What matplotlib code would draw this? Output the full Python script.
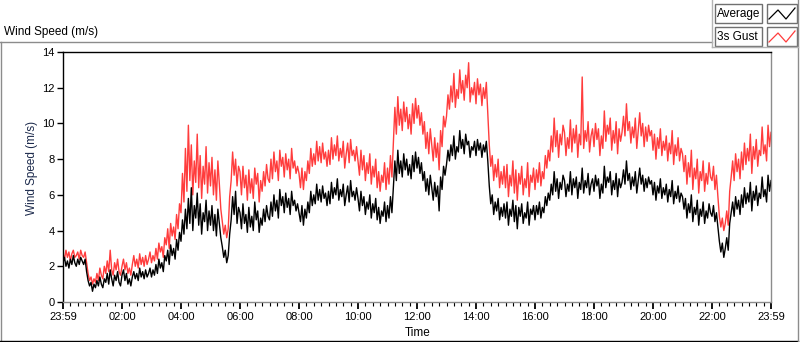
import numpy as np
import matplotlib
matplotlib.use('Agg')
import matplotlib.pyplot as plt
from matplotlib.patches import Rectangle
from matplotlib.lines import Line2D
from matplotlib.ticker import MultipleLocator

# wind speed (m/s), one sample every 3 minutes
sample_minutes = 3
average = [
    2.2, 2.5, 2.0, 2.3, 1.9, 2.4, 2.1, 2.6, 2.2, 2.0, 2.4, 2.1, 2.5, 2.3, 2.1, 2.4, 1.7, 1.2, 0.9, 1.1,
    0.6, 1.0, 0.8, 1.2, 0.9, 1.4, 1.0, 0.8, 1.3, 1.1, 1.6, 1.0, 1.8, 1.3, 0.9, 1.5, 1.2, 1.7, 1.1, 0.9,
    1.5, 1.8, 1.2, 1.6, 1.0, 1.3, 0.9, 1.4, 1.7, 1.3, 1.6, 1.2, 1.9, 1.4, 1.7, 1.3, 1.8, 1.4, 1.6, 1.9,
    1.4, 1.8, 1.5, 2.1, 1.6, 2.4, 1.9, 2.2, 1.7, 2.6, 2.3, 2.9, 2.1, 3.2, 2.6, 3.0, 2.4, 3.5, 2.9, 3.9,
    3.4, 4.6, 3.8, 5.2, 4.1, 5.8, 4.4, 6.4, 4.0, 5.4, 4.7, 6.1, 4.3, 5.5, 3.8, 5.0, 4.5, 5.7, 4.0, 5.1,
    4.3, 5.4, 4.0, 4.9, 3.7, 5.2, 4.4, 3.6, 3.1, 2.5, 2.9, 2.2, 2.6, 3.8, 4.6, 5.9, 4.9, 6.2, 4.4, 5.3,
    5.0, 4.1, 5.5, 4.4, 4.9, 3.9, 5.3, 4.2, 4.8, 4.0, 5.6, 4.6, 5.1, 3.9, 4.7, 4.3, 5.2, 4.5, 5.4, 4.8,
    4.6, 5.6, 4.8, 6.0, 5.1, 5.7, 4.7, 6.3, 5.4, 5.9, 5.0, 6.1, 5.3, 5.8, 4.9, 6.2, 5.4, 5.7, 5.1, 5.5,
    5.0, 4.5, 5.4, 4.3, 5.2, 4.7, 5.6, 5.0, 6.2, 5.4, 6.0, 5.5, 6.6, 5.7, 6.3, 5.6, 6.5, 5.8, 6.1, 5.4,
    6.2, 5.5, 6.7, 5.8, 6.4, 6.0, 6.9, 5.7, 6.3, 5.9, 6.6, 5.4, 6.0, 6.5, 5.6, 6.8, 5.9, 6.2, 5.7, 6.4,
    5.8, 5.1, 6.2, 5.4, 5.9, 4.9, 5.6, 5.2, 6.0, 4.7, 5.5, 5.0, 5.8, 4.6, 5.3, 4.4, 5.1, 4.8, 5.6, 4.5,
    5.4, 4.7, 5.9, 5.0, 6.4, 7.9, 6.8, 8.5, 7.2, 7.9, 7.0, 8.3, 7.4, 8.0, 7.1, 7.7, 6.9, 8.2, 7.3, 8.4,
    7.5, 8.1, 7.2, 7.8, 6.8, 7.3, 6.2, 6.9, 6.0, 7.1, 6.4, 5.7, 6.7, 5.9, 6.5, 5.1, 7.0, 6.3, 7.6, 7.1,
    7.7, 8.5, 7.9, 8.8, 8.2, 9.3, 8.0, 8.7, 8.4, 9.6, 8.6, 9.1, 8.3, 9.4, 8.8, 9.0, 8.1, 8.7, 8.5, 9.0,
    8.2, 9.1, 8.5, 8.9, 8.1, 8.8, 8.4, 9.0, 7.9, 6.5, 5.5, 6.0, 4.9, 5.6, 5.1, 5.8, 4.6, 5.3, 4.8, 5.5,
    4.7, 5.6, 4.3, 5.2, 4.8, 5.7, 4.5, 5.4, 4.1, 5.3, 4.8, 5.5, 4.4, 5.0, 4.7, 5.6, 4.3, 5.2, 4.9, 5.4,
    4.6, 5.4, 4.9, 5.6, 4.7, 5.3, 5.0, 5.9, 5.4, 6.1, 5.7, 6.6, 6.0, 7.3, 6.2, 6.9, 5.8, 6.7, 6.3, 7.1,
    6.8, 5.9, 6.6, 6.2, 7.3, 6.0, 6.9, 6.4, 7.0, 5.8, 6.7, 6.3, 7.5, 6.1, 6.8, 6.4, 7.2, 6.0, 6.6, 6.9,
    6.2, 7.1, 6.5, 6.9, 5.8, 6.6, 6.1, 7.6, 6.4, 7.0, 6.7, 7.3, 6.0, 6.8, 6.3, 7.2, 5.9, 6.9, 6.4, 6.7,
    7.4, 6.6, 7.9, 6.8, 7.2, 6.3, 7.0, 6.5, 7.3, 6.1, 6.8, 7.5, 6.6, 7.1, 6.2, 6.9, 6.4, 7.0, 6.6, 6.8,
    6.0, 6.7, 5.7, 6.5, 6.1, 6.9, 5.8, 6.4, 6.0, 6.6, 5.6, 6.3, 5.9, 6.8, 5.5, 6.2, 5.8, 6.5, 5.6, 6.1,
    5.9, 5.2, 5.8, 4.7, 5.5, 5.0, 6.0, 4.5, 5.3, 4.9, 5.7, 4.3, 5.2, 4.8, 5.6, 4.4, 5.1, 4.7, 5.5, 5.0,
    4.8, 5.4, 4.5, 5.0, 4.2, 3.4, 2.8, 3.3, 2.5, 3.0, 3.6, 2.9, 4.4, 5.0, 5.6, 4.8, 5.9, 5.2, 5.7, 4.9,
    6.0, 5.3, 6.4, 5.5, 6.1, 5.6, 6.7, 5.1, 6.2, 5.7, 6.5, 5.4, 6.1, 5.8, 7.0, 5.9, 6.3, 5.6, 7.1, 6.2,
    6.8,
]
gust = [
    2.7, 2.4, 2.9, 2.5, 2.8, 2.3, 2.7, 2.9, 2.5, 2.6, 2.8, 2.4, 2.9, 2.6, 2.5, 2.8, 2.2, 1.6, 1.2, 1.4,
    1.0, 1.3, 1.1, 1.6, 1.2, 1.9, 1.5, 1.3, 2.0, 1.6, 2.3, 1.7, 2.9, 1.8, 1.5, 2.2, 1.8, 2.4, 1.7, 1.5,
    2.0, 2.4, 1.8, 2.2, 1.6, 1.9, 1.5, 2.1, 2.6, 2.0, 2.4, 1.9, 2.7, 2.1, 2.5, 2.0, 2.6, 2.1, 2.4, 2.8,
    2.2, 2.6, 2.3, 3.0, 2.4, 3.3, 2.8, 3.1, 2.5, 3.6, 3.2, 4.1, 3.0, 4.4, 3.7, 4.2, 3.5, 4.9, 4.1, 5.5,
    5.0, 7.2, 5.6, 8.6, 6.2, 9.9, 6.8, 8.8, 6.0, 7.9, 6.7, 9.4, 6.4, 8.2, 5.8, 7.6, 6.6, 8.7, 6.1, 7.8,
    6.5, 8.1, 6.0, 7.4, 5.7, 7.9, 6.6, 5.2, 4.5, 3.8, 4.3, 3.6, 4.1, 5.9, 6.8, 8.4, 7.1, 8.0, 6.5, 7.6,
    7.3, 6.0, 7.6, 6.4, 7.1, 5.7, 7.4, 6.1, 6.9, 5.8, 7.5, 6.6, 7.2, 5.6, 6.8, 6.2, 7.3, 6.5, 7.7, 6.9,
    6.7, 8.0, 6.9, 8.4, 7.3, 7.9, 6.8, 8.5, 7.6, 8.1, 7.0, 8.3, 7.4, 8.0, 6.9, 8.6, 7.5, 7.9, 7.2, 7.6,
    7.2, 6.4, 7.5, 6.3, 7.3, 6.8, 7.9, 7.2, 8.6, 7.6, 8.3, 7.7, 9.0, 7.9, 8.7, 7.8, 8.9, 8.0, 8.4, 7.6,
    8.5, 7.7, 9.2, 8.0, 8.8, 8.2, 9.3, 7.9, 8.6, 8.1, 9.0, 7.5, 8.3, 8.9, 7.8, 9.1, 8.2, 8.5, 7.9, 8.7,
    7.9, 7.1, 8.5, 7.4, 8.2, 6.8, 7.8, 7.2, 8.3, 6.6, 7.6, 7.0, 8.0, 6.4, 7.3, 6.2, 7.1, 6.7, 7.8, 6.3,
    7.5, 6.6, 8.2, 7.0, 8.9, 10.9, 9.4, 11.5, 9.9, 10.8, 9.6, 11.2, 10.1, 10.9, 9.7, 10.5, 9.4, 11.1, 10.0, 11.4,
    10.3, 11.0, 9.9, 10.6, 9.4, 10.1, 8.6, 9.5, 8.3, 9.7, 8.8, 7.9, 9.2, 8.1, 8.9, 7.4, 9.6, 8.7, 10.4, 9.8,
    10.4, 11.6, 10.8, 12.1, 11.2, 12.8, 10.9, 11.9, 11.4, 13.0, 11.7, 12.4, 11.3, 12.7, 12.0, 13.4, 11.2, 12.0, 11.6, 12.3,
    11.1, 12.5, 11.6, 12.2, 11.0, 12.0, 11.4, 12.3, 10.6, 8.8, 7.6, 8.2, 6.8, 7.7, 7.0, 8.0, 6.4, 7.3, 6.6, 7.6,
    6.4, 7.7, 5.9, 7.1, 6.5, 7.9, 6.1, 7.4, 5.7, 7.2, 6.6, 7.6, 6.0, 6.9, 6.4, 7.8, 5.9, 7.1, 6.7, 7.5,
    6.3, 7.4, 6.7, 7.8, 6.5, 7.3, 6.9, 8.2, 7.5, 8.5, 7.9, 9.3, 8.4, 10.3, 8.7, 9.6, 8.1, 9.4, 8.8, 9.9,
    9.5, 8.2, 9.2, 8.6, 10.2, 8.4, 9.7, 8.9, 9.9, 8.1, 9.4, 8.8, 12.6, 8.6, 9.6, 9.0, 10.1, 8.4, 9.3, 9.7,
    8.7, 10.0, 9.1, 9.7, 8.2, 9.3, 8.6, 10.7, 9.0, 9.9, 9.4, 10.3, 8.5, 9.6, 8.9, 10.1, 8.3, 9.7, 9.0, 9.5,
    10.4, 9.3, 11.1, 9.6, 10.1, 8.9, 9.8, 9.2, 10.3, 8.6, 9.6, 10.6, 9.3, 10.0, 8.7, 9.8, 9.0, 9.9, 9.3, 9.6,
    8.5, 9.4, 8.0, 9.2, 8.6, 9.7, 8.2, 9.0, 8.5, 9.3, 7.9, 8.9, 8.3, 9.6, 7.7, 8.8, 8.2, 9.2, 7.9, 8.6,
    8.3, 7.3, 8.2, 6.6, 7.8, 7.0, 8.5, 6.3, 7.5, 6.9, 8.0, 6.1, 7.3, 6.8, 7.9, 6.2, 7.2, 6.6, 7.8, 7.0,
    6.8, 7.6, 6.3, 7.1, 5.9, 4.8, 4.2, 4.7, 4.0, 4.4, 5.1, 4.3, 6.2, 7.0, 7.9, 6.8, 8.3, 7.3, 8.0, 6.9,
    8.4, 7.4, 8.9, 7.7, 8.6, 7.9, 9.4, 7.2, 8.7, 8.0, 9.1, 7.6, 8.5, 8.2, 9.8, 8.3, 8.8, 7.9, 9.9, 8.7,
    9.5,
]
time_ticks = [0, 2, 4, 6, 8, 10, 12, 14, 16, 18, 20, 22, 24]
time_labels = ['23:59', '02:00', '04:00', '06:00', '08:00', '10:00', '12:00',
               '14:00', '16:00', '18:00', '20:00', '22:00', '23:59']
speed_ticks = [0, 2, 4, 6, 8, 10, 12, 14]
series_names = ['Average', '3s Gust']

plt.rcParams['font.family'] = ['Liberation Sans', 'DejaVu Sans']
W, H = 800, 342

def fx(px):
    return px / W

def fy(py):
    return 1 - py / H

hours_avg = np.arange(len(average)) * sample_minutes / 60.0
hours_gust = np.arange(len(gust)) * sample_minutes / 60.0

fig = plt.figure(figsize=(8, 3.42), dpi=100)
ax = fig.add_axes([fx(63), fy(302), fx(771) - fx(63), fy(52) - fy(302)])

ax.plot(hours_gust, gust, color='#ff3c3c', lw=1.0)
ax.plot(hours_avg, average, color='black', lw=1.0)

ax.set_xlim(0, 24)
ax.set_ylim(0, 14)
ax.set_xticks(time_ticks)
ax.set_xticklabels(time_labels)
ax.xaxis.set_minor_locator(MultipleLocator(0.25))
ax.set_yticks(speed_ticks)
ax.tick_params(axis='both', which='major', labelsize=8, colors='black', pad=2)
ax.tick_params(axis='x', which='major', length=5, width=1.3)
ax.tick_params(axis='x', which='minor', length=3, width=0.8)
ax.tick_params(axis='y', which='major', length=4, width=1)

ax.spines['left'].set_color('black')
ax.spines['top'].set_color('black')
ax.spines['bottom'].set_color('#8c8c8c')
ax.spines['right'].set_color('#8c8c8c')
for s in ax.spines.values():
    s.set_linewidth(1)

fig.text(fx(32), fy(168), 'Wind Speed (m/s)', rotation=90, ha='center', va='center',
         fontsize=8.5, color='#1c2a4c')
fig.text(fx(418), fy(333), 'Time', ha='center', va='center', fontsize=8.5)
fig.text(fx(4), fy(32), 'Wind Speed (m/s)', ha='left', va='center', fontsize=8.5)

# outer panel frame
frame = [((0, 42), (712, 42), '#8c8c8c'), ((1, 42), (1, 341), '#8c8c8c'),
         ((0, 341), (798, 341), 'black'), ((798, 0), (798, 341), '#8c8c8c'),
         ((712, 0), (712, 47), '#b4b4b4'), ((712, 47), (798, 47), '#b4b4b4')]
for (x0, y0), (x1, y1), c in frame:
    fig.add_artist(Line2D([fx(x0), fx(x1)], [fy(y0), fy(y1)], color=c, lw=1,
                          transform=fig.transFigure))

# legend boxes
for i, (name, col) in enumerate(zip(series_names, ['black', '#ff3c3c'])):
    top = 4 + i * 23
    fig.add_artist(Rectangle((fx(715), fy(top + 19)), fx(47), fy(0) - fy(19),
                             transform=fig.transFigure, fill=False, ec='#707070', lw=1))
    fig.text(fx(717), fy(top + 9.5), name, ha='left', va='center', fontsize=8.5)
    fig.add_artist(Rectangle((fx(767), fy(top + 19)), fx(30), fy(0) - fy(19),
                             transform=fig.transFigure, fill=False, ec='#707070', lw=1))
    zx = [769, 778, 786, 795]
    zy = [top + 15, top + 6, top + 15, top + 4]
    fig.add_artist(Line2D([fx(v) for v in zx], [fy(v) for v in zy], color=col, lw=0.9,
                          transform=fig.transFigure))

fig.savefig('out.png', dpi=100, facecolor='white')
